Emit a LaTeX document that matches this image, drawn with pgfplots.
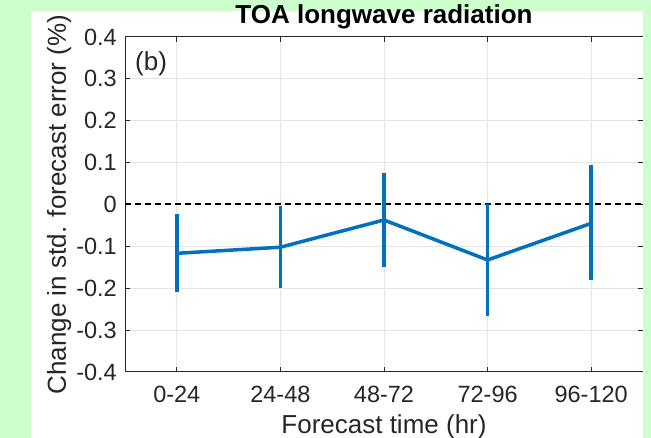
\documentclass[border=0pt]{standalone}
\usepackage{fontspec}
\setmainfont{Liberation Sans}
\usepackage{pgfplots}
\pgfplotsset{compat=1.18}
\definecolor{bggreen}{RGB}{204,255,204}
\definecolor{mblue}{RGB}{0,114,189}
\definecolor{axgray}{RGB}{38,38,38}
\definecolor{gridgray}{RGB}{228,228,228}
\begin{document}
\begin{tikzpicture}
\fill[bggreen] (0pt,0pt) rectangle (651pt,438pt);
\fill[white] (31pt,0pt) rectangle (642.7pt,427pt);
\begin{axis}[
  at={(125pt,66pt)}, anchor=south west,
  width=518pt, height=335pt, scale only axis,
  xmin=0.5, xmax=5.5, ymin=-0.4, ymax=0.4,
  xtick={1,2,3,4,5}, xticklabels={0-24,24-48,48-72,72-96,96-120},
  ytick={-0.4,-0.3,-0.2,-0.1,0,0.1,0.2,0.3,0.4},
  yticklabels={-0.4,-0.3,-0.2,-0.1,0,0.1,0.2,0.3,0.4},
  grid=major, major grid style={gridgray, line width=1pt},
  axis line style={axgray, line width=1pt},
  tick style={axgray, line width=1pt}, major tick length=5pt, tick align=inside,
  ticklabel style={font=\fontsize{23.5}{28}\selectfont, text=axgray, inner sep=0pt},
  xticklabel style={anchor=base, yshift=-31pt},
  yticklabel style={anchor=east, xshift=-8pt},
  title={TOA longwave radiation},
  title style={at={(axis description cs:0.5,1)}, anchor=base, yshift=7pt, inner sep=0pt, font=\fontsize{26}{31}\selectfont\bfseries},
  xlabel={Forecast time (hr)},
  xlabel style={at={(axis description cs:0.5,0)}, anchor=base, yshift=-62pt, inner sep=0pt, font=\fontsize{26}{31}\selectfont, text=axgray},
  ylabel={Change in std. forecast error (\%)},
  ylabel style={at={(axis description cs:-0.1139,0.5)}, anchor=base, inner sep=0pt, font=\fontsize{26}{31}\selectfont, text=axgray},
]
\addplot[black, line width=2pt, dash pattern=on 6pt off 4pt, mark=none] coordinates {(0.5,0) (5.5,0)};
\addplot[mblue, line width=3.5pt, mark=none,
  error bars/.cd, y dir=both, y explicit, error mark=none,
  error bar style={line width=3.5pt, mblue}]
  coordinates {
  (1,-0.1166) += (0,0.0936) -= (0,0.0931)
  (2,-0.1020) += (0,0.0990) -= (0,0.0980)
  (3,-0.0370) += (0,0.1115) -= (0,0.1130)
  (4,-0.1325) += (0,0.1325) -= (0,0.1330)
  (5,-0.0450) += (0,0.1400) -= (0,0.1350)
  };
\node[anchor=base west, inner sep=0pt, font=\fontsize{26}{31}\selectfont, text=axgray] at (axis description cs:0.0193,0.8985) {(b)};
\end{axis}
\fill[bggreen] (642.7pt,0pt) rectangle (651pt,438pt);
\pgfresetboundingbox
\path[use as bounding box] (0pt,0pt) rectangle (651pt,438pt);
\end{tikzpicture}
\end{document}
